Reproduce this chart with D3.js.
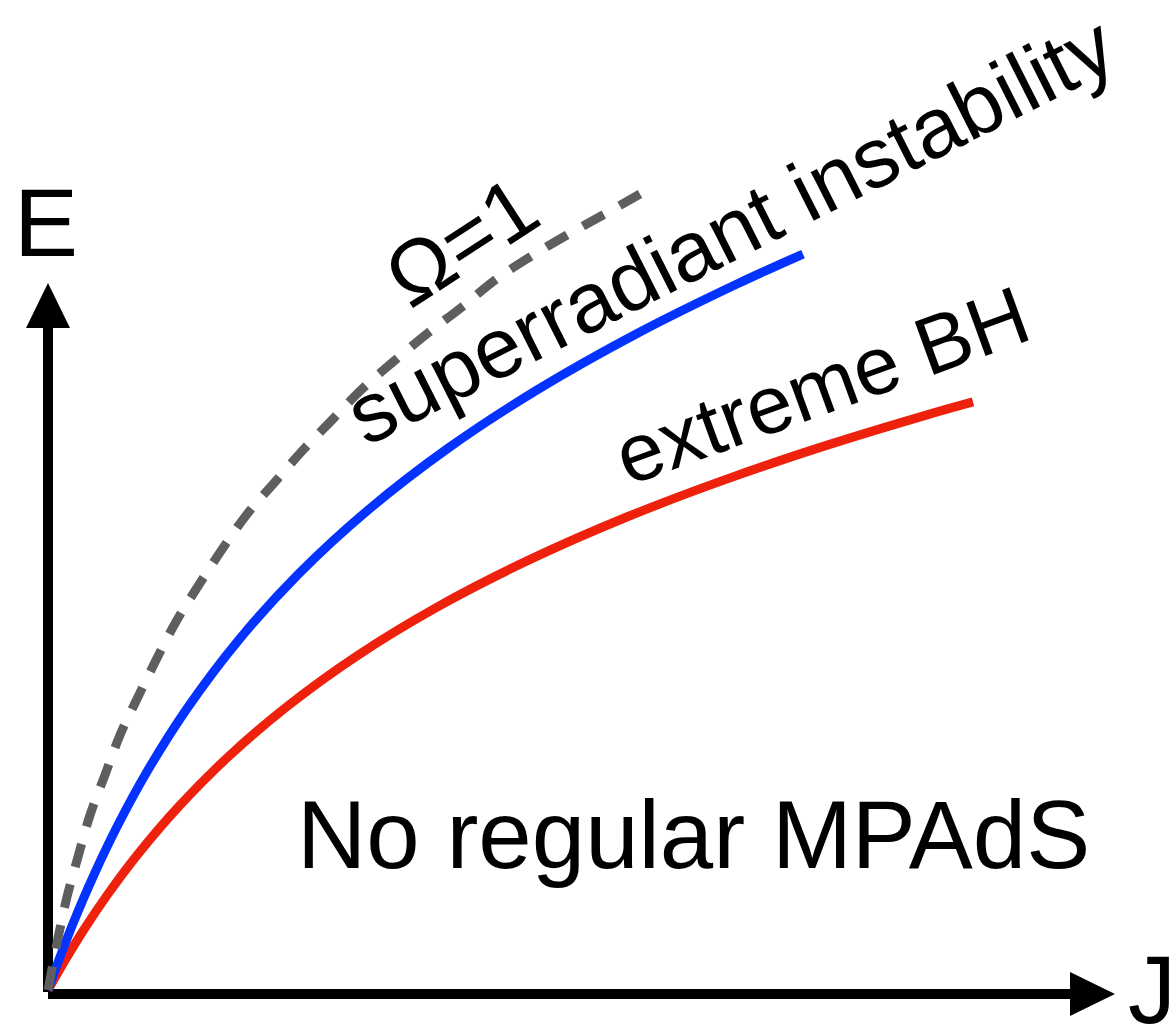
<!DOCTYPE html>
<html>
<head>
<meta charset="utf-8">
<script src="https://cdn.jsdelivr.net/npm/d3@7/dist/d3.min.js"></script>
<style>
  html, body { margin: 0; padding: 0; background: #ffffff; }
  svg { display: block; }
  text { font-family: "Liberation Sans", Arial, Helvetica, sans-serif; fill: #000; }
</style>
</head>
<body>
<div id="chart"></div>
<script>
// Phase diagram in the (J, E) plane, arbitrary units (0..100 along each axis arrow).

// Omega = 1 boundary (dashed grey)
const omegaOneJ = [0, 0.94, 1.78, 2.81, 3.94, 5.34, 6.75, 8.43, 10.22, 12.09, 14.25, 16.40, 18.74, 21.27, 23.90, 26.62, 29.24, 32.33, 35.61, 38.80, 41.89, 45.17, 48.64, 52.01, 55.48];
const omegaOneE = [0, 7.36, 13.15, 18.81, 24.75, 30.41, 36.07, 41.44, 46.96, 52.33, 57.57, 62.52, 67.47, 71.85, 76.38, 80.62, 84.72, 88.83, 92.93, 96.61, 100.42, 103.68, 106.79, 109.62, 112.59];

// Onset of the superradiant instability (blue)
const superradiantJ = [0, 0.94, 2.34, 4.22, 6.56, 9.37, 13.12, 17.81, 23.43, 29.99, 37.49, 45.92, 55.30, 64.67, 70.76];
const superradiantE = [0, 3.92, 9.39, 16.01, 23.37, 31.12, 40.01, 49.39, 58.77, 67.88, 76.63, 84.95, 92.93, 99.93, 104.10];

// Extremal black holes (red)
const extremeJ = [0, 1.41, 3.28, 5.62, 8.43, 12.18, 16.87, 22.49, 29.05, 36.55, 44.99, 54.36, 63.73, 73.10, 82.47, 86.69];
const extremeE = [0, 3.73, 8.35, 13.58, 19.22, 25.83, 32.96, 40.21, 47.36, 54.23, 60.76, 66.97, 72.33, 77.10, 81.39, 83.18];

// Axis titles and annotations
const axisTitles = { x: "J", y: "E" };
const curveLabels = ["\u03A9=1", "superradiant instability", "extreme BH"];
const regionLabel = "No regular MPAdS";

const W = 1175, H = 1027;
const svg = d3.select("#chart").append("svg")
  .attr("width", W).attr("height", H)
  .attr("viewBox", `0 0 ${W} ${H}`);

svg.append("rect").attr("width", W).attr("height", H).attr("fill", "#fff");

// Scales: the arrow tips sit at 100 on each axis
const x = d3.scaleLinear().domain([0, 100]).range([48, 1115]);
const y = d3.scaleLinear().domain([0, 100]).range([990, 283]);

const zip = (a, b) => a.map((v, i) => [v, b[i]]);
const line = d3.line().x(d => x(d[0])).y(d => y(d[1])).curve(d3.curveCatmullRom.alpha(0.5));

// Axes with arrow heads
const head = 45, half = 22;
const g = svg.append("g");
g.append("line")
  .attr("x1", x(0)).attr("y1", y(0) + 2)
  .attr("x2", x(0)).attr("y2", y(100) + head - 1)
  .attr("stroke", "#000").attr("stroke-width", 10);
g.append("line")
  .attr("x1", x(0)).attr("y1", y(0) + 4)
  .attr("x2", x(100) - head + 1).attr("y2", y(0) + 4)
  .attr("stroke", "#000").attr("stroke-width", 10);
g.append("path")
  .attr("d", `M${x(0)},${y(100)} L${x(0) + half},${y(100) + head} L${x(0) - half},${y(100) + head} Z`)
  .attr("fill", "#000");
g.append("path")
  .attr("d", `M${x(100)},${y(0) + 4} L${x(100) - head},${y(0) + 4 - half} L${x(100) - head},${y(0) + 4 + half} Z`)
  .attr("fill", "#000");

// Curves
svg.append("path")
  .attr("d", line(zip(extremeJ, extremeE)))
  .attr("fill", "none").attr("stroke", "#ee220c").attr("stroke-width", 9);
svg.append("path")
  .attr("d", line(zip(superradiantJ, superradiantE)))
  .attr("fill", "none").attr("stroke", "#0433ff").attr("stroke-width", 9);
svg.append("path")
  .attr("d", line(zip(omegaOneJ, omegaOneE)))
  .attr("fill", "none").attr("stroke", "#5e5e5e").attr("stroke-width", 9)
  .attr("stroke-dasharray", "24 18");

// Axis titles
svg.append("text").attr("x", 14).attr("y", 256)
  .attr("font-size", 96).text(axisTitles.y);
svg.append("text").attr("x", 1128).attr("y", 1023)
  .attr("font-size", 96).text(axisTitles.x);

// Curve labels, set along each curve
const labelPlacement = [
  { x: 410, y: 310, angle: -33, size: 85 },
  { x: 366, y: 447, angle: -26.8, size: 85 },
  { x: 628, y: 486, angle: -20, size: 82 }
];
curveLabels.forEach((t, i) => {
  const p = labelPlacement[i];
  svg.append("text")
    .attr("transform", `translate(${p.x},${p.y}) rotate(${p.angle})`)
    .attr("font-size", p.size)
    .text(t);
});

// Region label
svg.append("text").attr("x", 297).attr("y", 868)
  .attr("font-size", 96).text(regionLabel);
</script>
</body>
</html>
